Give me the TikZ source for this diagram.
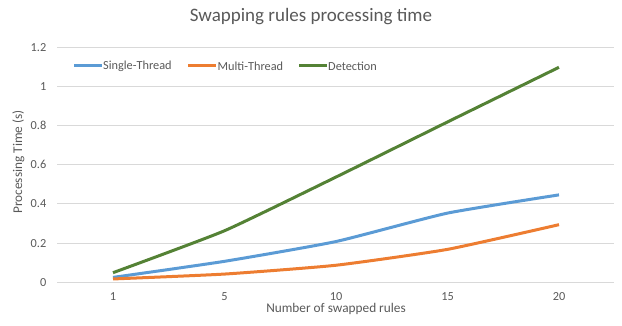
\documentclass[tikz,border=0pt]{standalone}
\usepackage{fontspec}
\setmainfont{Carlito}
\definecolor{txt}{HTML}{595959}
\definecolor{gridc}{HTML}{D9D9D9}
\definecolor{sblue}{HTML}{5B9BD5}
\definecolor{sorange}{HTML}{ED7D31}
\definecolor{sgreen}{HTML}{548235}
\tikzset{
  gridline/.style={draw=gridc, line width=1pt},
  ticklbl/.style={text=txt, inner sep=0pt, font=\fontsize{12.3}{14}\selectfont},
  axtitle/.style={text=txt, inner sep=0pt, font=\fontsize{13.3}{15}\selectfont},
  titlelbl/.style={text=txt, inner sep=0pt, font=\fontsize{19}{22}\selectfont},
  series/.style={line width=3pt, line join=round, smooth, tension=0.3},
  legline/.style={line width=3pt},
}
\begin{document}
\begin{tikzpicture}[x=1pt,y=1pt]
\useasboundingbox (0,0) rectangle (622,326);
% gridlines and y tick labels
\begin{scope}[shift={(0,43.7)}, y=196pt]
\foreach \v/\l/\n in {0/0/y0, 0.2/0.2/y1, 0.4/0.4/y2, 0.6/0.6/y3, 0.8/0.8/y4, 1/1/y5, 1.2/1.2/y6} {
  \draw[gridline] (57,\v) -- (614,\v);
  \node[ticklbl, anchor=east] (\n) at (46.5,\v) {\l};
}
% x tick labels
\foreach \x/\l/\n in {113/1/x1, 224.5/5/x5, 336/10/x10, 447.5/15/x15, 559/20/x20} {
  \node[ticklbl] (\n) at (\x,-0.075) {\l};
}
% series
\draw[series, sblue] plot coordinates {(113,0.025) (224.5,0.107) (336,0.208) (447.5,0.353) (559,0.446)};
\draw[series, sorange] plot coordinates {(113,0.017) (224.5,0.042) (336,0.087) (447.5,0.168) (559,0.294)};
\draw[series, sgreen] plot coordinates {(113,0.049) (224.5,0.263) (336,0.537) (447.5,0.818) (559,1.097)};
\end{scope}
% titles
\node[titlelbl] (title) at (311,309.5) {Swapping rules processing time};
\node[axtitle] (xtitle) at (336,17) {Number of swapped rules};
\node[axtitle, rotate=90] (ytitle) at (18.5,164) {Processing Time (s)};
% legend
\coordinate (lb1) at (74,260); \coordinate (lb2) at (101.7,260);
\draw[legline, sblue] (lb1) -- (lb2);
\node[ticklbl, anchor=west] (lbt) at (103,260) {Single-Thread};
\coordinate (lo1) at (188,260); \coordinate (lo2) at (216,260);
\draw[legline, sorange] (lo1) -- (lo2);
\node[ticklbl, anchor=west] (lot) at (217.5,260) {Multi-Thread};
\coordinate (lg1) at (299,260); \coordinate (lg2) at (326.7,260);
\draw[legline, sgreen] (lg1) -- (lg2);
\node[ticklbl, anchor=west] (lgt) at (328,260) {Detection};
\end{tikzpicture}
\end{document}
